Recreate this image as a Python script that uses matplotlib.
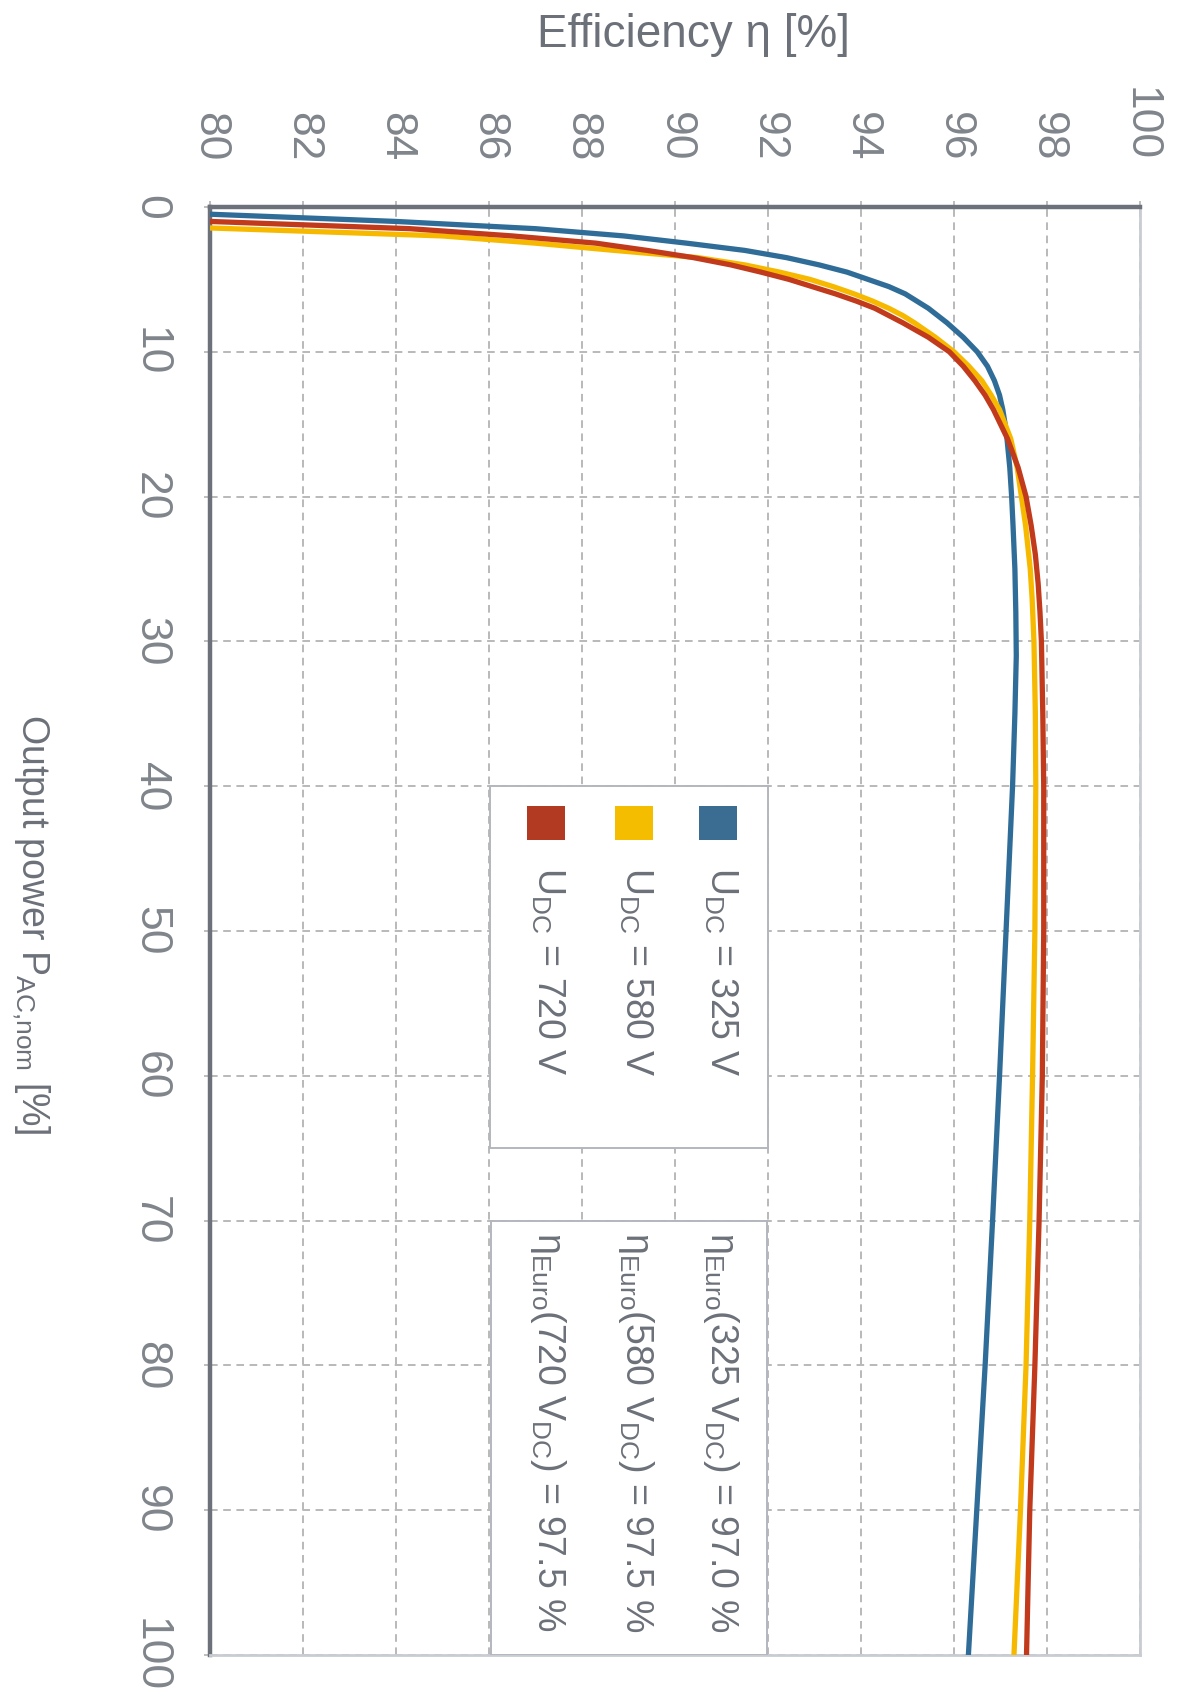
import matplotlib
matplotlib.use("Agg")
import matplotlib.pyplot as plt
from matplotlib.patches import Rectangle
from matplotlib import font_manager

# ---------------------------------------------------------------
# Data: output power [% of P_AC,nom] -> efficiency [%]
# ---------------------------------------------------------------
power_325 = [0.5, 1.0, 1.5, 2.0, 2.5, 3.0, 3.5, 4.0, 4.5, 5.0, 5.5, 6.0, 6.5, 7.0, 7.5, 8.0, 9.0, 10, 11, 12, 13,
             14, 15, 16, 18, 20, 22, 25, 28, 31, 35, 40, 50, 60, 70, 80, 90, 100]
eff_325 = [80.0, 84.0, 87.0, 88.9, 90.25, 91.5, 92.4, 93.1, 93.7, 94.15, 94.6, 94.95, 95.2, 95.45, 95.65, 95.85,
           96.2, 96.5, 96.72, 96.87, 96.98, 97.05, 97.1, 97.14, 97.2, 97.24, 97.27, 97.31, 97.33, 97.34, 97.31,
           97.26, 97.12, 96.98, 96.83, 96.67, 96.49, 96.31]

power_580 = [1.45, 2.0, 2.5, 3.0, 3.5, 4.0, 4.5, 5.0, 5.5, 6.0, 6.5, 7.0, 7.5, 8.0, 9.0, 10, 11, 12, 13, 14, 16,
             18, 20, 22, 25, 27, 30, 35, 40, 50, 60, 70, 80, 90, 100]
eff_580 = [80.0, 85.0, 87.0, 88.7, 90.5, 91.5, 92.25, 92.9, 93.4, 93.85, 94.25, 94.6, 94.9, 95.15, 95.6, 96.0,
           96.32, 96.6, 96.8, 96.98, 97.22, 97.36, 97.45, 97.54, 97.64, 97.68, 97.72, 97.75, 97.76, 97.74, 97.69,
           97.63, 97.55, 97.43, 97.29]

power_720 = [1.0, 1.5, 2.0, 2.5, 3.0, 3.5, 4.0, 4.5, 5.0, 5.5, 6.0, 6.5, 7.0, 7.5, 8.0, 9.0, 10, 11, 12, 13, 14, 15,
             16, 18, 20, 22, 24, 26, 28, 30, 35, 40, 50, 60, 70, 80, 90, 100]
eff_720 = [80.0, 84.3, 86.5, 88.3, 89.4, 90.4, 91.2, 91.85, 92.45, 92.95, 93.45, 93.9, 94.3, 94.6, 94.9, 95.45,
           95.9, 96.2, 96.45, 96.67, 96.85, 97.0, 97.15, 97.38, 97.55, 97.66, 97.75, 97.81, 97.85, 97.88, 97.91,
           97.93, 97.93, 97.90, 97.83, 97.74, 97.63, 97.56]

labels_udc = ["325", "580", "720"]
euro_eff = ["97.0", "97.5", "97.5"]
colors = ["#2f6d98", "#f6b900", "#c23a1c"]
square_colors = ["#3a6d91", "#f4bd00", "#b23a22"]

eff_ticks = list(range(80, 101, 2))
power_ticks = list(range(0, 101, 10))

# ---------------------------------------------------------------
# Fonts
# ---------------------------------------------------------------
installed = {f.name for f in font_manager.fontManager.ttflist}
narrow = "Liberation Sans Narrow" if "Liberation Sans Narrow" in installed else "Liberation Sans"

plt.rcParams["font.family"] = [narrow, "DejaVu Sans"]
plt.rcParams["mathtext.fontset"] = "custom"
plt.rcParams["mathtext.rm"] = narrow
plt.rcParams["mathtext.it"] = narrow
plt.rcParams["mathtext.bf"] = narrow
plt.rcParams["lines.scale_dashes"] = False

text_col = "#6b7079"
tick_col = "#80858c"
big = 38 if narrow != "Liberation Sans" else 32
mid = 33 if narrow != "Liberation Sans" else 27

# ---------------------------------------------------------------
# Figure (chart is drawn rotated: efficiency horizontal, power downward)
# ---------------------------------------------------------------
fig = plt.figure(figsize=(11.79, 17.02), dpi=100)
ax = fig.add_axes([0.1781, 0.0276, 0.7888, 0.8508])

ax.plot(eff_325, power_325, color=colors[0], lw=3.8, solid_capstyle="butt", zorder=3)
ax.plot(eff_580, power_580, color=colors[1], lw=3.8, solid_capstyle="butt", zorder=3)
ax.plot(eff_720, power_720, color=colors[2], lw=3.8, solid_capstyle="butt", zorder=3)

ax.set_xlim(80, 100)
ax.set_ylim(100, 0)
ax.set_xticks(eff_ticks)
ax.set_yticks(power_ticks)
ax.grid(True, linestyle=(0, (5.5, 4)), color="#b9b9b9", lw=1.4)
ax.set_axisbelow(True)

ax.xaxis.tick_top()
ax.tick_params(axis="x", top=True, bottom=False, labeltop=True, labelbottom=False,
               length=4, width=1.3, color="#b9b9b9", pad=29, labelsize=big,
               labelcolor=tick_col, labelrotation=-90)
ax.tick_params(axis="y", length=4, width=1.3, color="#b9b9b9", pad=24, labelsize=big,
               labelcolor=tick_col, labelrotation=-90)
for lbl in ax.get_yticklabels():
    lbl.set_va("center")

for side in ["top", "left"]:
    ax.spines[side].set_color("#6d7179")
    ax.spines[side].set_linewidth(3.2)
for side in ["right", "bottom"]:
    ax.spines[side].set_color("#c9ccd2")
    ax.spines[side].set_linewidth(2)

# Titles
fig.text(0.588, 1 - 47 / 1702, "Efficiency η [%]", ha="center", va="baseline",
         fontsize=33, color=text_col, family=["Liberation Sans", "DejaVu Sans"])
fig.text(10 / 1179, 1 - 924 / 1702, r"Output power P$_{\mathrm{AC{,}nom}}$ [%]",
         rotation=-90, ha="left", va="center", fontsize=27, color=text_col)

# Legend box (voltages)
ax.add_patch(Rectangle((0.301, 0.350), 0.299, 0.250, transform=ax.transAxes,
                       facecolor="white", edgecolor="#b3b7bd", lw=1.4, zorder=4))
col_x = [0.5495, 0.458, 0.3634]
sq_x = [0.526, 0.435, 0.341]
for i in range(3):
    ax.add_patch(Rectangle((sq_x[i], 0.563), 0.041, 0.023, transform=ax.transAxes,
                           facecolor=square_colors[i], edgecolor="none", zorder=5))
    ax.text(col_x[i], 0.544, r"U$_{\mathrm{DC}}$ = " + labels_udc[i] + " V",
            transform=ax.transAxes, rotation=-90, ha="center", va="top",
            fontsize=mid, color=text_col, zorder=5)

# Euro efficiency box
ax.add_patch(Rectangle((0.302, 0.0), 0.297, 0.300, transform=ax.transAxes,
                       facecolor="white", edgecolor="#b3b7bd", lw=1.4, zorder=4))
for i in range(3):
    ax.text(col_x[i], 0.292,
            "η$_{\\mathrm{Euro}}$(" + labels_udc[i] + r" V$_{\mathrm{DC}}$) = " + euro_eff[i] + " %",
            transform=ax.transAxes, rotation=-90, ha="center", va="top",
            fontsize=mid, color=text_col, zorder=5)

fig.savefig("out.png", dpi=100)
